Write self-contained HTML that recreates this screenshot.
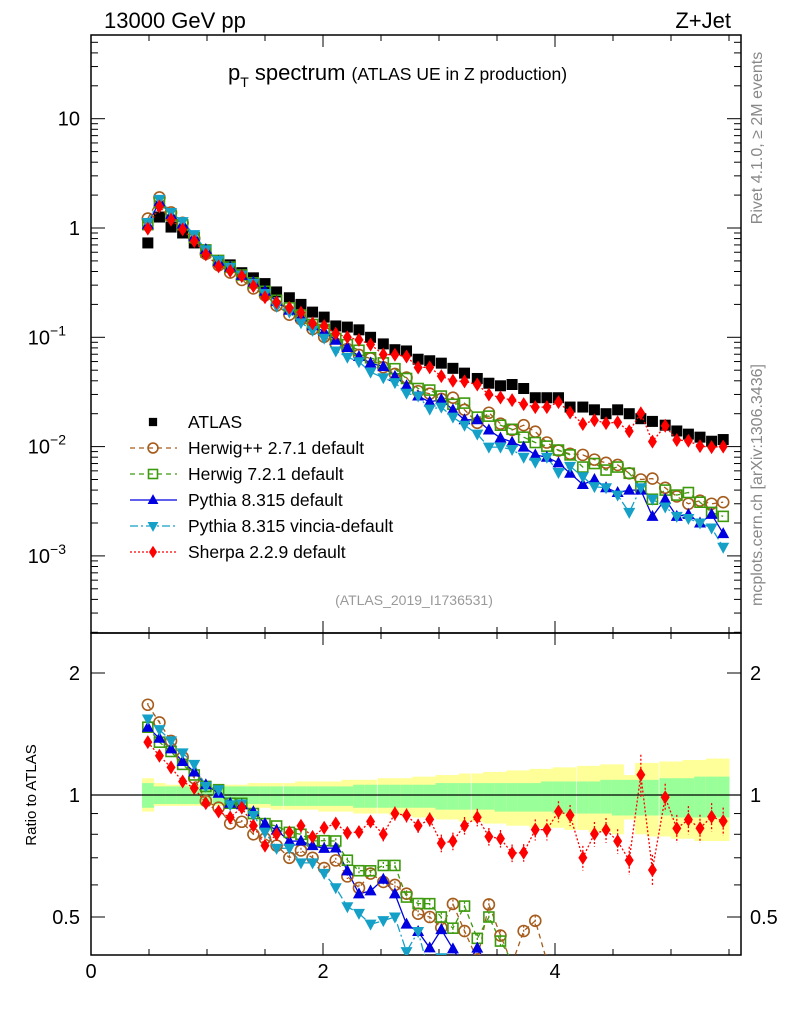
<!DOCTYPE html>
<html><head><meta charset="utf-8"><style>
html,body{margin:0;padding:0;background:#fff;width:786px;height:1024px;overflow:hidden;}
svg{display:block;font-family:"Liberation Sans",sans-serif;}
</style></head><body>
<svg id="chart" width="786" height="1024" viewBox="0 0 786 1024" xmlns="http://www.w3.org/2000/svg">
<defs>
<clipPath id="clipMain"><rect x="91" y="35" width="650" height="598"/></clipPath>
<clipPath id="clipRatio"><rect x="91" y="633" width="650" height="322"/></clipPath>
</defs>
<text x="104" y="28" font-size="22">13000 GeV pp</text>
<text x="731" y="28" font-size="22" text-anchor="end">Z+Jet</text>
<text x="228" y="80" font-size="22">p<tspan font-size="14" dy="7">T</tspan><tspan dy="-7"> spectrum </tspan><tspan font-size="17.5">(ATLAS UE in Z production)</tspan></text>
<text transform="translate(762,138) rotate(-90)" font-size="16" fill="#888" text-anchor="middle">Rivet 4.1.0, ≥ 2M events</text>
<text transform="translate(762,485) rotate(-90)" font-size="16" fill="#888" text-anchor="middle">mcplots.cern.ch [arXiv:1306.3436]</text>
<text x="414" y="605" font-size="14" fill="#999" text-anchor="middle">(ATLAS_2019_I1736531)</text>
<text transform="translate(36,795) rotate(-90)" font-size="15" text-anchor="middle">Ratio to ATLAS</text>
<g id="bands"></g>
<g id="axes"></g>
<g id="series"></g>
<g id="legend"></g>
</svg>
<script>
const xs=[0.49,0.59,0.69,0.79,0.89,0.99,1.10,1.20,1.30,1.40,1.50,1.60,1.71,1.81,1.91,2.01,2.11,2.21,2.31,2.41,2.52,2.62,2.72,2.82,2.92,3.02,3.12,3.22,3.33,3.43,3.53,3.63,3.73,3.83,3.93,4.03,4.13,4.24,4.34,4.44,4.54,4.64,4.74,4.84,4.95,5.05,5.15,5.25,5.35,5.45];
const atlas=[0.73,1.26,1.02,0.90,0.73,0.60,0.49,0.46,0.39,0.35,0.31,0.26,0.23,0.20,0.17,0.153,0.127,0.124,0.117,0.10,0.087,0.077,0.075,0.063,0.061,0.058,0.052,0.047,0.042,0.038,0.036,0.037,0.034,0.028,0.028,0.028,0.023,0.023,0.0217,0.020,0.0217,0.020,0.018,0.017,0.0157,0.0139,0.013,0.0122,0.0112,0.0116];
const herwigpp=[1.219,1.903,1.387,1.116,0.803,0.580,0.456,0.391,0.335,0.280,0.242,0.195,0.161,0.146,0.119,0.101,0.0876,0.0781,0.0690,0.064,0.0531,0.0462,0.0428,0.0321,0.0305,0.0273,0.028,0.0217,0.0165,0.0204,0.0162,0.0142,0.0157,0.0137,0.0109,0.0092,0.0086,0.0084,0.0076,0.0071,0.0068,0.0057,0.0050,0.0051,0.0042,0.0035,0.0030,0.0032,0.0030,0.0031];
const herwig7=[1.073,1.701,1.306,1.071,0.818,0.630,0.505,0.439,0.372,0.315,0.2635,0.218,0.186,0.160,0.131,0.118,0.0978,0.0856,0.0761,0.065,0.0583,0.0516,0.042,0.034,0.0329,0.029,0.0244,0.025,0.0186,0.019,0.0157,0.0144,0.0122,0.0109,0.0101,0.0093,0.0084,0.0065,0.0070,0.0061,0.0065,0.0057,0.0043,0.0033,0.0040,0.0036,0.0038,0.0031,0.0025,0.0023];
const pythia=[1.073,1.739,1.326,1.089,0.832,0.636,0.495,0.439,0.369,0.3185,0.2635,0.213,0.177,0.154,0.1275,0.113,0.094,0.0806,0.0667,0.058,0.0539,0.0439,0.036,0.029,0.0256,0.027,0.0217,0.0176,0.0176,0.0142,0.0120,0.011,0.0099,0.0084,0.0080,0.0071,0.0057,0.0045,0.0050,0.0042,0.0038,0.0040,0.0040,0.0023,0.0033,0.0023,0.0024,0.0020,0.0024,0.0016];
const vincia=[1.124,1.827,1.387,1.143,0.869,0.630,0.505,0.435,0.3705,0.3115,0.251,0.192,0.170,0.136,0.1156,0.098,0.075,0.0657,0.0597,0.048,0.0426,0.0385,0.0308,0.029,0.022,0.023,0.0186,0.0157,0.013,0.0099,0.0099,0.0094,0.0080,0.0072,0.0080,0.0058,0.0066,0.0053,0.0043,0.0042,0.0036,0.0025,0.0042,0.0033,0.0028,0.0023,0.0022,0.0020,0.0018,0.0012];
const sherpa=[0.986,1.575,1.193,0.972,0.759,0.573,0.446,0.405,0.363,0.294,0.2325,0.208,0.186,0.168,0.134,0.127,0.108,0.100,0.0948,0.086,0.0696,0.0693,0.0668,0.0529,0.0531,0.0441,0.0400,0.0395,0.0370,0.0300,0.0281,0.0266,0.0245,0.0230,0.0230,0.0255,0.0205,0.0161,0.0174,0.0164,0.0167,0.0138,0.0202,0.0111,0.0155,0.0115,0.0113,0.0101,0.0099,0.0100];
const sherpaErr=[0.02,0.02,0.02,0.02,0.02,0.02,0.02,0.02,0.02,0.02,0.02,0.02,0.02,0.02,0.02,0.03,0.03,0.03,0.03,0.03,0.04,0.04,0.04,0.04,0.04,0.05,0.05,0.05,0.05,0.05,0.05,0.05,0.05,0.06,0.06,0.06,0.06,0.07,0.07,0.07,0.07,0.08,0.12,0.09,0.08,0.08,0.08,0.08,0.08,0.08];
const mcErr=[0.01,0.01,0.01,0.01,0.01,0.01,0.01,0.01,0.01,0.01,0.01,0.01,0.015,0.015,0.015,0.015,0.015,0.015,0.02,0.02,0.02,0.02,0.02,0.02,0.025,0.025,0.025,0.025,0.025,0.03,0.03,0.03,0.03,0.03,0.035,0.035,0.035,0.035,0.04,0.04,0.04,0.04,0.04,0.045,0.045,0.045,0.05,0.05,0.05,0.05];
const greenUp=[1.07,1.05,1.05,1.05,1.05,1.05,1.05,1.05,1.05,1.05,1.05,1.05,1.05,1.05,1.05,1.05,1.05,1.05,1.06,1.06,1.06,1.06,1.06,1.06,1.06,1.07,1.07,1.07,1.07,1.07,1.07,1.07,1.07,1.07,1.08,1.08,1.08,1.08,1.08,1.09,1.09,1.09,1.09,1.09,1.10,1.10,1.10,1.11,1.11,1.11];
const greenDn=[0.93,0.95,0.95,0.95,0.95,0.95,0.95,0.95,0.95,0.95,0.95,0.94,0.94,0.94,0.94,0.94,0.94,0.94,0.93,0.93,0.93,0.93,0.93,0.93,0.93,0.92,0.92,0.92,0.92,0.92,0.91,0.91,0.91,0.91,0.91,0.90,0.90,0.90,0.90,0.90,0.89,0.89,0.89,0.89,0.89,0.88,0.88,0.88,0.88,0.88];
const yellowUp=[1.10,1.07,1.06,1.06,1.06,1.06,1.06,1.06,1.06,1.07,1.07,1.07,1.07,1.08,1.08,1.08,1.08,1.09,1.09,1.09,1.10,1.10,1.10,1.11,1.11,1.12,1.12,1.13,1.13,1.14,1.14,1.15,1.15,1.16,1.16,1.17,1.17,1.18,1.18,1.19,1.19,1.12,1.20,1.20,1.21,1.21,1.22,1.22,1.23,1.23];
const yellowDn=[0.91,0.94,0.94,0.94,0.94,0.94,0.94,0.93,0.93,0.93,0.93,0.92,0.92,0.92,0.92,0.91,0.91,0.91,0.90,0.90,0.90,0.89,0.89,0.88,0.88,0.87,0.87,0.86,0.86,0.85,0.85,0.84,0.84,0.83,0.83,0.83,0.82,0.82,0.81,0.81,0.80,0.87,0.80,0.79,0.79,0.78,0.78,0.77,0.77,0.77];
const xTicks=[0,2,4];
const yMainTicks=[{v:10,t:"10"},{v:1,t:"1"},{v:0.1,t:"10",e:"−1"},{v:0.01,t:"10",e:"−2"},{v:0.001,t:"10",e:"−3"}];
const yRatioTicks=[{v:2,t:"2"},{v:1,t:"1"},{v:0.5,t:"0.5"}];

const NS="http://www.w3.org/2000/svg";
const X0=91,X1=741,MT=35,MB=633,RT=633,RB=955;
const xMax=(X1-X0)/116;
function sx(v){return X0+v*116;}
function syMain(v){return 228-Math.log10(v)*109.3;}
function syRatio(v){return 795-Math.log2(v)*122;}
function mk(tag,attrs,parent){const e=document.createElementNS(NS,tag);for(const k in attrs)e.setAttribute(k,attrs[k]);parent.appendChild(e);return e;}
const axes=document.getElementById('axes');
const bands=document.getElementById('bands');
const seriesG=document.getElementById('series');
const legend=document.getElementById('legend');

const bw=(xs[1]-xs[0])*116;
for(let i=0;i<xs.length;i++){
  const x=sx(xs[i])-bw/2;
  const r1=mk('rect',{x:x,y:syRatio(yellowUp[i]),width:bw+0.5,height:syRatio(yellowDn[i])-syRatio(yellowUp[i]),fill:'#ffff99'},bands);
  
  
  const r2=mk('rect',{x:x,y:syRatio(greenUp[i]),width:bw+0.5,height:syRatio(greenDn[i])-syRatio(greenUp[i]),fill:'#99ff99'},bands);
  
  
}
const ul=mk('line',{x1:X0,x2:X1,y1:syRatio(1),y2:syRatio(1),stroke:'#000','stroke-width':1.2},axes);



const f1=mk('rect',{x:X0,y:MT,width:X1-X0,height:MB-MT,fill:'none',stroke:'#000','stroke-width':1.5},axes);


const f2=mk('rect',{x:X0,y:RT,width:X1-X0,height:RB-RT,fill:'none',stroke:'#000','stroke-width':1.5},axes);



for(let v=0;v<=xMax+1e-6;v+=0.5){
  const major=Math.abs(v-Math.round(v/2)*2)<1e-6;
  const L=major?12:6;
  [[MT,1],[MB,-1],[RT,1],[RB,-1]].forEach(([y,d])=>{
    const t=mk('line',{x1:sx(v),x2:sx(v),y1:y,y2:y+d*L,stroke:'#000','stroke-width':1},axes);
    
    
  });
}
xTicks.forEach(v=>{
  const t=mk('text',{x:sx(v),y:978,'font-size':20,'text-anchor':'middle'},axes);
  t.textContent=String(v);
  
  
});
for(let d=-4;d<=1;d++){
  for(let m=1;m<=9;m++){
    const v=m*Math.pow(10,d);const y=syMain(v);
    if(y<MT||y>MB)continue;
    const L=m===1?14:7;
    [[X0,1],[X1,-1]].forEach(([x,s])=>{
      const t=mk('line',{x1:x,x2:x+s*L,y1:y,y2:y,stroke:'#000','stroke-width':1},axes);
      
      
    });
  }
}
yMainTicks.forEach(o=>{
  const t=mk('text',{x:o.e?66:80,y:syMain(o.v)+7,'font-size':20,'text-anchor':'end'},axes);
  t.textContent=o.t;
  if(o.e){const s=mk('tspan',{'font-size':14,dy:-9},t);s.textContent=o.e;}
  
  
});
[0.4,0.5,0.6,0.7,0.8,0.9,1,2].forEach(v=>{
  const y=syRatio(v);if(y<RT||y>RB)return;
  const L=(v===1||v===2||v===0.5)?14:7;
  [[X0,1],[X1,-1]].forEach(([x,s])=>{
    const t=mk('line',{x1:x,x2:x+s*L,y1:y,y2:y,stroke:'#000','stroke-width':1},axes);
    
    
  });
});
yRatioTicks.forEach(o=>{
  const t=mk('text',{x:80,y:syRatio(o.v)+7,'font-size':20,'text-anchor':'end'},axes);
  t.textContent=o.t;
  
  
  const t2=mk('text',{x:750,y:syRatio(o.v)+7,'font-size':20},axes);
  t2.textContent=o.t;
  
  
});

function marker(type,x,y,color,g,s){
  s=s||1;let e;
  if(type==='square') e=mk('rect',{x:x-5.5*s,y:y-5.5*s,width:11*s,height:11*s,fill:color},g);
  else if(type==='circle') e=mk('circle',{cx:x,cy:y,r:5.5*s,fill:'none',stroke:color,'stroke-width':1.6},g);
  else if(type==='osquare') e=mk('rect',{x:x-5*s,y:y-5*s,width:10*s,height:10*s,fill:'none',stroke:color,'stroke-width':1.6},g);
  else if(type==='up') e=mk('polygon',{points:`${x},${y-6.5*s} ${x-6*s},${y+4.5*s} ${x+6*s},${y+4.5*s}`,fill:color},g);
  else if(type==='down') e=mk('polygon',{points:`${x},${y+6.5*s} ${x-6*s},${y-4.5*s} ${x+6*s},${y-4.5*s}`,fill:color},g);
  else if(type==='diamond') e=mk('polygon',{points:`${x},${y-7*s} ${x-4.5*s},${y} ${x},${y+7*s} ${x+4.5*s},${y}`,fill:color},g);
  return e;
}
const mcs=[
 {name:'herwigpp',label:'Herwig++ 2.7.1 default',data:herwigpp,err:mcErr,color:'#a65c1c',dash:'5,4',m:'circle'},
 {name:'herwig7',label:'Herwig 7.2.1 default',data:herwig7,err:mcErr,color:'#3c9a0c',dash:'5,4',m:'osquare'},
 {name:'pythia',label:'Pythia 8.315 default',data:pythia,err:mcErr,color:'#0000e0',dash:'',m:'up'},
 {name:'vincia',label:'Pythia 8.315 vincia-default',data:vincia,err:mcErr,color:'#15a0c8',dash:'8,3,2,3',m:'down'},
 {name:'sherpa',label:'Sherpa 2.2.9 default',data:sherpa,err:sherpaErr,color:'#ff0000',dash:'2,2',m:'diamond'}
];
const gMain=mk('g',{'clip-path':'url(#clipMain)'},seriesG);


const gRatio=mk('g',{'clip-path':'url(#clipRatio)'},seriesG);


atlas.forEach((v,i)=>{
  const e=marker('square',sx(xs[i]),syMain(v),'#000',gMain);
  
  
});
mcs.forEach(s=>{
  const pm=s.data.map((v,i)=>sx(xs[i]).toFixed(1)+','+syMain(v).toFixed(1)).join(' ');
  const l=mk('polyline',{points:pm,fill:'none',stroke:s.color,'stroke-width':1.3,'stroke-dasharray':s.dash},gMain);
  
  
  const pr=s.data.map((v,i)=>sx(xs[i]).toFixed(1)+','+syRatio(v/atlas[i]).toFixed(1)).join(' ');
  const l2=mk('polyline',{points:pr,fill:'none',stroke:s.color,'stroke-width':1.3,'stroke-dasharray':s.dash},gRatio);
  
  
});
mcs.forEach(s=>{
  s.data.forEach((v,i)=>{
    const x=sx(xs[i]);const r=v/atlas[i];
    const e=marker(s.m,x,syMain(v),s.color,gMain);
    
    
    const ya=syRatio(r*(1+s.err[i])),yb=syRatio(r*(1-s.err[i]));
    const eb=mk('line',{x1:x,x2:x,y1:ya,y2:yb,stroke:s.color,'stroke-width':1.3,'stroke-dasharray':s.dash?'2,2':''},gRatio);
    
    
    const e2=marker(s.m,x,syRatio(r),s.color,gRatio);
    
    
  });
});
const legRows=[{label:'ATLAS',m:'square',color:'#000',dash:null,y:422,name:'atlas'}].concat(mcs.map((s,i)=>({label:s.label,m:s.m,color:s.color,dash:s.dash,y:448+i*26,name:s.name})));
legRows.forEach(r=>{
  const g=mk('g',{},legend);
  
  
  if(r.dash!==null){mk('line',{x1:130,x2:177,y1:r.y,y2:r.y,stroke:r.color,'stroke-width':1.3,'stroke-dasharray':r.dash},g);}
  marker(r.m,153,r.y,r.color,g,r.m==='square'?0.75:0.9);
  const t=mk('text',{x:188,y:r.y+6,'font-size':17.5},g);
  t.textContent=r.label;
});
</script>
</body></html>
